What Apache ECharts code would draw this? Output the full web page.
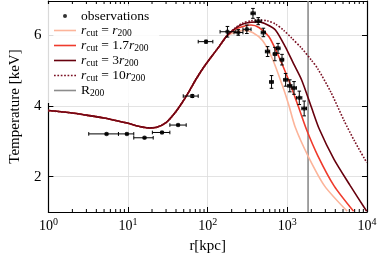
<!DOCTYPE html>
<html><head><meta charset="utf-8">
<script src="https://cdn.jsdelivr.net/npm/echarts@6/dist/echarts.min.js"></script>
<style>html,body{margin:0;padding:0;background:#fff}#c{width:382px;height:259px}</style>
</head><body><div id="c"></div>
<script>
// ---------- data ----------
const Y_MIN = 1.0, Y_MAX = 6.97, X_MIN = 1, X_MAX = 10000;
const R200 = 1820;
const yTicks = [2, 4, 6];
const xMinorTicks = [2,3,4,5,6,7,8,9,20,30,40,50,60,70,80,90,200,300,400,500,600,700,800,900,2000,3000,4000,5000,6000,7000,8000,9000];

const obsR   = [5.37, 9.67, 16.1, 26.7, 42.5, 64.1, 95.3, 177, 242, 310, 370, 431, 500, 565, 633, 697, 764, 857, 951, 1074, 1213, 1413, 1626];
const obsT   = [3.21, 3.21, 3.10, 3.25, 3.46, 4.28, 5.82, 6.10, 6.08, 6.17, 6.62, 6.40, 6.08, 5.54, 4.68, 5.47, 5.63, 5.31, 4.74, 4.57, 4.51, 4.23, 3.93];
const obsRlo = [3.21, 7.58, 11.8, 20.2, 33.5, 49.3, 76, 143, 214, 277, 350, 395, 470, 530, 600, 665, 730, 810, 900, 1010, 1140, 1300, 1520];
const obsRhi = [7.58, 11.8, 20.7, 33.5, 53.7, 76, 116, 225, 277, 350, 395, 470, 530, 600, 665, 730, 810, 900, 1010, 1140, 1300, 1520, 1740];
const obsTerr= [0.02, 0.02, 0.02, 0.02, 0.02, 0.04, 0.04, 0.15, 0.08, 0.12, 0.14, 0.10, 0.12, 0.14, 0.18, 0.19, 0.14, 0.15, 0.18, 0.17, 0.18, 0.19, 0.21];

// shared inner profile (all models coincide here)
const baseR = [1, 2, 3, 5, 7, 10, 14, 18, 23, 30, 38, 47, 58, 72, 90, 112, 140, 175];
const baseT = [3.87, 3.80, 3.74, 3.66, 3.59, 3.51, 3.42, 3.38, 3.40, 3.53, 3.78, 4.07, 4.40, 4.77, 5.11, 5.40, 5.69, 5.99];

const cut1R  = [220, 277, 366, 488, 645, 860, 1035, 1247, 1815, 2930, 5650];
const cut1T  = [6.08, 6.14, 6.08, 5.85, 5.35, 4.60, 4.05, 3.42, 2.59, 1.74, 1.02];
const cut17R = [220, 277, 350, 440, 588, 780, 1035, 1371, 1734, 2415, 3860, 6790];
const cut17T = [6.17, 6.25, 6.29, 6.22, 5.96, 5.40, 4.74, 3.99, 3.34, 2.59, 1.74, 1.02];
const cut3R  = [220, 277, 350, 443, 560, 708, 940, 1200, 1507, 2000, 2525, 3855, 6185, 9910];
const cut3T  = [6.19, 6.32, 6.37, 6.38, 6.30, 6.15, 5.68, 5.19, 4.74, 3.97, 3.34, 2.49, 1.74, 1.02];
const cut10R = [220, 277, 350, 443, 560, 708, 900, 1135, 1500, 2000, 2415, 3500, 5120, 7000, 9910];
const cut10T = [6.20, 6.35, 6.41, 6.43, 6.41, 6.32, 6.14, 5.92, 5.64, 5.30, 5.05, 4.40, 3.60, 3.00, 2.40];

// ---------- build ----------
const FONT = 'Liberation Serif';
function pairs(r, t) { return r.map((v, i) => [v, t[i]]); }
function curve(r, t) { return pairs(baseR, baseT).concat(pairs(r, t)); }
const obsData = obsR.map((v, i) => [v, obsT[i]]);
const errData = obsR.map((v, i) => [v, obsT[i], obsRlo[i], obsRhi[i], obsT[i] - obsTerr[i], obsT[i] + obsTerr[i]]);

// legend icons: thin solid bar and dotted bar (22 x 1.6)
const solidIcon = 'path://M0,0H22V1.6H0Z';
let dotPath = '';
for (let x = 0; x < 22; x += 3.2) dotPath += 'M' + x + ',0H' + Math.min(x + 1.6, 22) + 'V1.6H' + x + 'Z';
const dottedIcon = 'path://' + dotPath;

const chart = echarts.init(document.getElementById('c'), null, {renderer: 'canvas'});
const sub = {fontSize: 9.5, fontFamily: FONT, padding: [5, 0, 0, 0], color: '#000'};
const ital = {fontSize: 13.5, fontFamily: FONT, fontStyle: 'italic', color: '#000'};
const norm = {fontSize: 13.5, fontFamily: FONT, color: '#000'};
const legendNames = {
  obs: '{n|observations}',
  c1: '{i|r}{s|cut}{n| = }{i|r}{s|200}',
  c17: '{i|r}{s|cut}{n| = 1.7}{i|r}{s|200}',
  c3: '{i|r}{s|cut}{n| = 3}{i|r}{s|200}',
  c10: '{i|r}{s|cut}{n| = 10}{i|r}{s|200}',
  R: '{n|R}{s|200}'
};
const lineSeries = (id, data, color, type) => ({
  type: 'line', name: id, data: data, smooth: 0.25, symbol: 'none', showSymbol: false, z: 3,
  lineStyle: {color: color, width: 1.6, type: type || 'solid'}, itemStyle: {color: color},
  emphasis: {disabled: true}
});

chart.setOption({
  animation: false,
  backgroundColor: '#fff',
  grid: {left: 41, right: 15, top: 1, bottom: 46.5, containLabel: false},
  xAxis: [{
    type: 'log', logBase: 10, min: X_MIN, max: X_MAX,
    name: 'r[kpc]', nameLocation: 'middle', nameGap: 27,
    nameTextStyle: {fontFamily: FONT, fontSize: 15, color: '#000'},
    axisLine: {lineStyle: {color: '#000', width: 1.2}},
    axisTick: {inside: true, length: 5, lineStyle: {color: '#000'}},
    axisLabel: {margin: 5, color: '#000', formatter: v => '{b|10}{e|' + Math.round(Math.log10(v)) + '}',
      rich: {b: {fontSize: 14, fontFamily: FONT, color: '#000'}, e: {fontSize: 10, fontFamily: FONT, color: '#000', padding: [0, 0, 8, 0]}}},
    splitLine: {show: true, lineStyle: {color: '#dcdcdc', width: 0.8}}
  }, {
    type: 'log', logBase: 10, min: X_MIN, max: X_MAX, position: 'top',
    axisLine: {lineStyle: {color: '#000', width: 1.2}},
    axisTick: {inside: true, length: 5, lineStyle: {color: '#000'}},
    axisLabel: {show: false}, splitLine: {show: false}
  }],
  yAxis: [{
    type: 'value', min: Y_MIN, max: Y_MAX,
    name: 'Temperature [keV]', nameLocation: 'middle', nameGap: 21,
    nameTextStyle: {fontFamily: FONT, fontSize: 15, color: '#000'},
    axisLine: {show: true, lineStyle: {color: '#000', width: 1.2}},
    axisTick: {show: true, inside: true, length: 5, customValues: yTicks, lineStyle: {color: '#000'}},
    axisLabel: {customValues: yTicks, fontFamily: FONT, fontSize: 15, color: '#000', margin: 7},
    splitLine: {show: true, lineStyle: {color: '#dcdcdc', width: 0.8}}
  }, {
    type: 'value', min: Y_MIN, max: Y_MAX, position: 'right',
    axisLine: {show: true, lineStyle: {color: '#000', width: 1.2}},
    axisTick: {show: true, inside: true, length: 5, customValues: yTicks, lineStyle: {color: '#000'}},
    axisLabel: {show: false}, splitLine: {show: false}
  }],
  legend: {
    orient: 'vertical', left: 45, top: 4, padding: [5, 10, 5, 9],
    backgroundColor: 'rgba(255,255,255,0.85)', borderWidth: 0,
    itemWidth: 22, itemHeight: 4, itemGap: 0.5, symbolKeepAspect: true,
    textStyle: {fontFamily: FONT, fontSize: 13.5, color: '#000', lineHeight: 14,
      rich: {i: ital, s: sub, n: norm}},
    formatter: name => legendNames[name],
    data: [{name: 'obs', icon: 'circle'}, {name: 'c1', icon: solidIcon}, {name: 'c17', icon: solidIcon},
           {name: 'c3', icon: solidIcon}, {name: 'c10', icon: dottedIcon}, {name: 'R', icon: solidIcon}]
  },
  series: [
    {type: 'line', name: 'R', data: [[R200, Y_MIN], [R200, Y_MAX]], symbol: 'none', showSymbol: false, z: 1,
     lineStyle: {color: '#8c8c8c', width: 1.6}, itemStyle: {color: '#8c8c8c'}},
    lineSeries('c1', curve(cut1R, cut1T), '#fcb49a'),
    lineSeries('c17', curve(cut17R, cut17T), '#ef3b2c'),
    lineSeries('c3', curve(cut3R, cut3T), '#67000d'),
    lineSeries('c10', curve(cut10R, cut10T), '#7a0f22', 'dotted'),
    {type: 'custom', name: 'err', data: errData, z: 5, encode: {x: 0, y: 1},
     renderItem: function (params, api) {
       const x = api.value(0), y = api.value(1);
       const l = api.coord([api.value(2), y]), h = api.coord([api.value(3), y]);
       const lo = api.coord([x, api.value(4)]), hi = api.coord([x, api.value(5)]);
       const st = {stroke: '#000', lineWidth: 1};
       const cap = 1.8;
       return {type: 'group', children: [
         {type: 'line', shape: {x1: l[0], y1: l[1], x2: h[0], y2: h[1]}, style: st},
         {type: 'line', shape: {x1: l[0], y1: l[1] - cap, x2: l[0], y2: l[1] + cap}, style: st},
         {type: 'line', shape: {x1: h[0], y1: h[1] - cap, x2: h[0], y2: h[1] + cap}, style: st},
         {type: 'line', shape: {x1: lo[0], y1: lo[1], x2: hi[0], y2: hi[1]}, style: st},
         {type: 'line', shape: {x1: lo[0] - cap, y1: lo[1], x2: lo[0] + cap, y2: lo[1]}, style: st},
         {type: 'line', shape: {x1: hi[0] - cap, y1: hi[1], x2: hi[0] + cap, y2: hi[1]}, style: st}
       ]};
     }},
    {type: 'scatter', name: 'obs', data: obsData, symbol: 'circle', symbolSize: 4.5, z: 6,
     itemStyle: {color: '#000'}},
    {type: 'custom', name: 'minor', data: xMinorTicks.map(v => [v, Y_MIN]), z: 7, clip: false,
     encode: {x: 0, y: 1},
     renderItem: function (params, api) {
       const v = api.value(0);
       const b = api.coord([v, Y_MIN]), t = api.coord([v, Y_MAX]);
       const st = {stroke: '#000', lineWidth: 1};
       return {type: 'group', children: [
         {type: 'line', shape: {x1: b[0], y1: b[1], x2: b[0], y2: b[1] - 3}, style: st},
         {type: 'line', shape: {x1: t[0], y1: t[1], x2: t[0], y2: t[1] + 3}, style: st}
       ]};
     }}
  ]
});
</script></body></html>
